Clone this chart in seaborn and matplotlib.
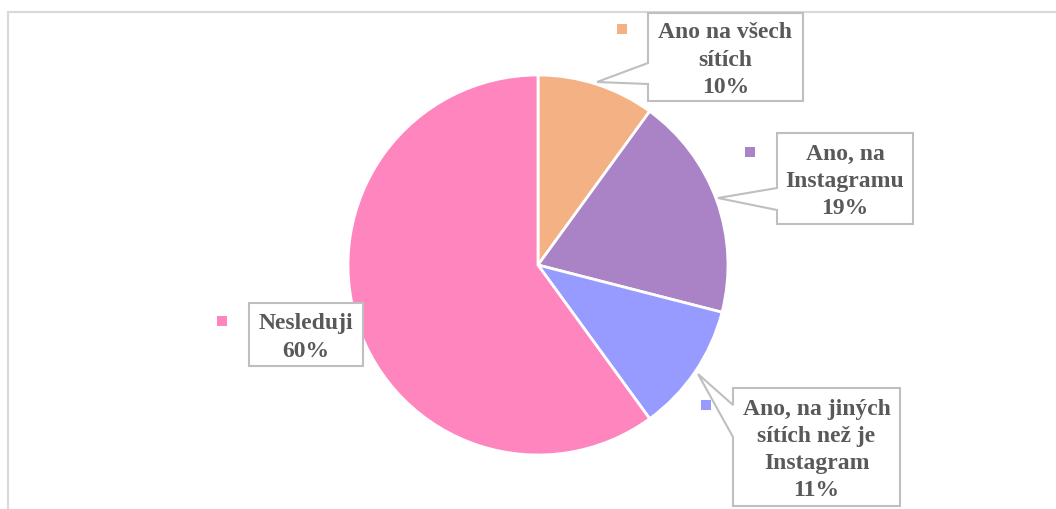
import matplotlib.pyplot as plt
import seaborn as sns
from matplotlib.patches import Polygon

categories = [
    "Ano na všech\nsítích",
    "Ano, na\nInstagramu",
    "Ano, na jiných\nsítích než je\nInstagram",
    "Nesleduji",
]
shares = [10, 19, 11, 60]
colors = ["#F4B183", "#A983C6", "#979BFF", "#FF85BF"]

W, H = 1056, 509

# label boxes in pixel coords: (left, top, right, bottom),
# pointer (tip_x, tip_y, y_upper, y_lower) on left edge, marker (x, y)
boxes = [
    ((648, 13, 803, 101), (597, 82, 63, 84), (622, 29)),
    ((777, 133, 913, 224), (718, 198, 188, 210), (750, 152)),
    ((733, 388, 900, 506), (698, 374, 405, 437), (706, 405)),
    ((249, 303, 363, 366), None, (222, 321)),
]

sns.set_theme(style="white")
plt.rcParams["font.family"] = ["Liberation Serif", "DejaVu Serif"]

fig = plt.figure(figsize=(W / 100, H / 100), dpi=100)
ax = fig.add_axes([0, 0, 1, 1])


def fy(y):
    return H - y


# outer chart frame (only top and left visible)
frame_col = "#D9D9D9"
ax.plot([8, W], [fy(12), fy(12)], color=frame_col, lw=1.5)
ax.plot([8, 8], [fy(12), 0], color=frame_col, lw=1.5)

ax.pie(
    shares,
    colors=colors,
    startangle=90,
    counterclock=False,
    center=(538, fy(265)),
    radius=190,
    wedgeprops={"edgecolor": "white", "linewidth": 2},
    frame=True,
)
ax.set_xlim(0, W)
ax.set_ylim(0, H)
ax.set_aspect("equal")
ax.axis("off")

for label, share, col, (box, ptr, mk) in zip(categories, shares, colors, boxes):
    l, t, r, b = box
    if ptr is None:
        verts = [(l, t), (r, t), (r, b), (l, b)]
    else:
        tx, ty, y1, y2 = ptr
        verts = [(l, t), (r, t), (r, b), (l, b), (l, y2), (tx, ty), (l, y1)]
    verts = [(x, fy(y)) for x, y in verts]
    ax.add_patch(Polygon(verts, closed=True, facecolor="white",
                         edgecolor="#BFBFBF", lw=1.5, zorder=3))
    ax.text((l + r) / 2, fy((t + b) / 2 + 3), f"{label}\n{share}%",
            ha="center", va="center", fontsize=17, fontweight="bold",
            color="#595959", linespacing=1.38, zorder=4)
    ax.scatter([mk[0]], [fy(mk[1])], marker="s", s=45, color=col,
               linewidths=0, zorder=4)

fig.savefig("out.png", dpi=100)
